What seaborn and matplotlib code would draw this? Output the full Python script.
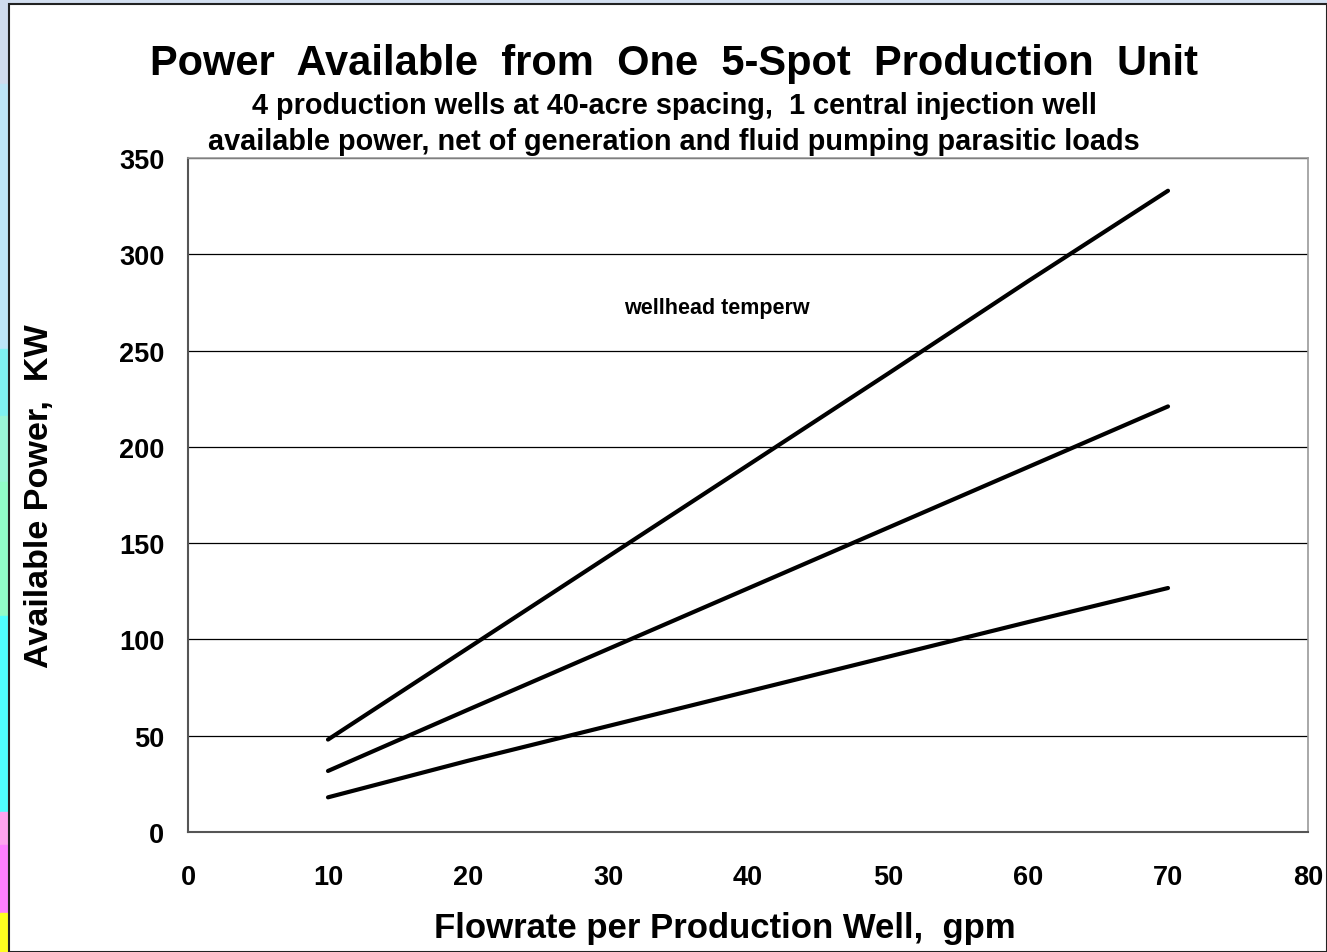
import numpy as np
import matplotlib
matplotlib.use('Agg')
import matplotlib.pyplot as plt
from matplotlib.patches import Rectangle
import seaborn as sns
import pandas as pd

# flowrate per production well (gpm) and available power (KW) for the three curves
flowrate = [10, 20, 30, 40, 50, 60, 70]
power_high = [48, 95.5, 143, 190.5, 238, 286, 333]
power_mid = [31.7, 63.5, 95, 126.5, 158, 189.5, 221]
power_low = [18, 37, 55, 73, 91, 109, 126.7]
x_ticks = [0, 10, 20, 30, 40, 50, 60, 70, 80]
y_ticks = [0, 50, 100, 150, 200, 250, 300, 350]

df = pd.DataFrame({
    'flowrate': flowrate * 3,
    'power': power_high + power_mid + power_low,
    'curve': ['high'] * 7 + ['mid'] * 7 + ['low'] * 7,
})

sns.set_style('white')
plt.rcParams['font.family'] = ['Liberation Sans', 'DejaVu Sans']
plt.rcParams['font.weight'] = 'bold'
plt.rcParams['text.color'] = 'black'

W, H = 1327, 953
fig = plt.figure(figsize=(W / 100, H / 100), dpi=100)
fig.patch.set_facecolor('#d3dff0')

# slide background: coloured strip on the left and white panel
strip = [(0, 85, '#d0dcee'), (85, 350, '#bde5f7'), (350, 417, '#80f2f2'),
         (417, 483, '#9af5d8'), (483, 617, '#92fcc8'), (617, 813, '#50ffff'),
         (813, 846, '#ffa4ee'), (846, 914, '#ff80ff'), (914, 953, '#ffff20')]
for y0, y1, c in strip:
    fig.patches.append(Rectangle((0, 1 - y1 / H), 9 / W, (y1 - y0) / H,
                                 transform=fig.transFigure, color=c, zorder=-2))
fig.patches.append(Rectangle((9 / W, 0), 1 - 9 / W, 1 - 5 / H, transform=fig.transFigure,
                             facecolor='white', edgecolor='#222222', lw=1.5, zorder=-1))

ax = fig.add_axes([188 / W, 1 - 833 / H, (1308 - 188) / W, (833 - 159) / H])
ax.set_facecolor('none')

sns.lineplot(data=df, x='flowrate', y='power', hue='curve', palette=['black'] * 3,
             legend=False, linewidth=3.0, ax=ax, solid_capstyle='round')

ax.set_xlim(0, 80)
ax.set_ylim(0, 350)
ax.set_xticks(x_ticks)
ax.set_yticks(y_ticks)
ax.grid(axis='y', color='black', linewidth=0.9)
ax.set_axisbelow(True)

for s in ['left', 'bottom']:
    ax.spines[s].set_color('#555555')
    ax.spines[s].set_linewidth(1.5)
for s in ['right', 'top']:
    ax.spines[s].set_color('#999999')
    ax.spines[s].set_linewidth(1.2)

ax.tick_params(axis='both', direction='out', length=7, width=1.2, color='#555555',
               labelsize=19.5, labelcolor='black')
ax.tick_params(axis='y', pad=10)
ax.tick_params(axis='x', pad=16)
for lab in ax.get_xticklabels() + ax.get_yticklabels():
    lab.set_fontweight('bold')

ax.set_xlabel('Flowrate per Production Well,  gpm', fontsize=25, fontweight='bold',
              labelpad=15, color='black')
ax.xaxis.label.set_x((725 - 188) / 1120)
ax.set_ylabel('Available Power,  KW', fontsize=24.6, fontweight='bold',
              labelpad=46, color='black')

fig.text(674 / W, 1 - 64 / H, 'Power  Available  from  One  5-Spot  Production  Unit',
         ha='center', va='center', fontsize=30, fontweight='bold')
fig.text(674 / W, 1 - 106 / H, '4 production wells at 40-acre spacing,  1 central injection well',
         ha='center', va='center', fontsize=20.8, fontweight='bold')
fig.text(674 / W, 1 - 142 / H, 'available power, net of generation and fluid pumping parasitic loads',
         ha='center', va='center', fontsize=20.8, fontweight='bold')

ax.text(37.8, 272.6, 'wellhead temperw', ha='center', va='center', fontsize=15.5, fontweight='bold')

fig.savefig('out.png', dpi=100)
